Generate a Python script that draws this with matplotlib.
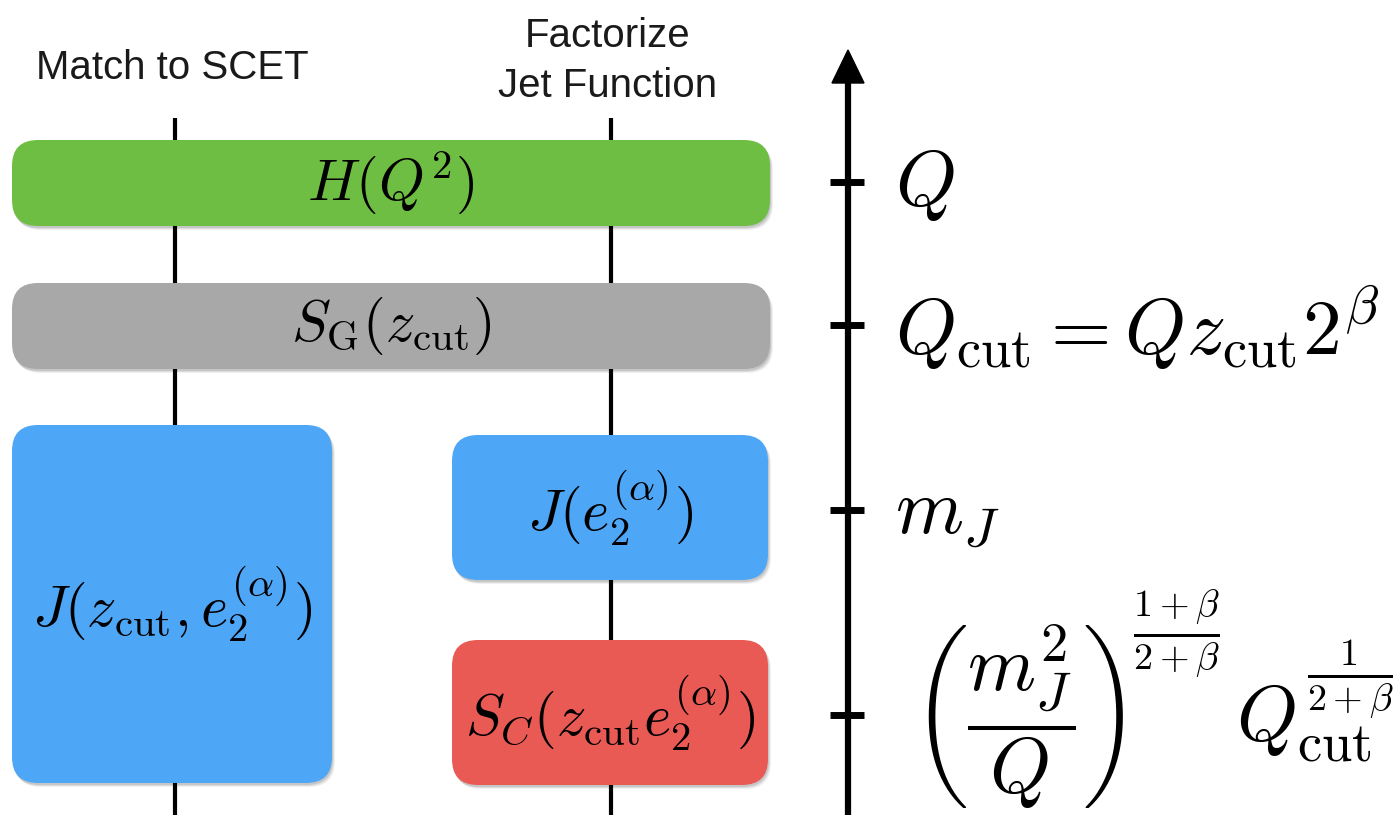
import matplotlib.pyplot as plt
from matplotlib.patches import FancyBboxPatch, Polygon

plt.rcParams['mathtext.fontset'] = 'cm'
plt.rcParams['font.family'] = ['Liberation Sans', 'DejaVu Sans']

# column headers and the two vertical factorization lines
headers = ["Match to SCET", "Factorize\nJet Function"]
header_x = [172, 608]

# boxes: label, colour, (left, top, width, height)
box_labels = [r"$H(Q^2)$",
              r"$S_{\rm G}(z_{\rm cut})$",
              r"$J(z_{\rm cut},e_2^{(\alpha)})$",
              r"$J(e_2^{(\alpha)})$",
              r"$S_C(z_{\rm cut}e_2^{(\alpha)})$"]
box_colors = ["#6fbe44", "#a7a8a7", "#4ea6f6", "#4ea6f6", "#ea5a55"]
box_rects = [(12, 140, 758, 86),
             (12, 283, 758, 86),
             (12, 425, 320, 358),
             (452, 435, 316, 145),
             (452, 640, 316, 145)]

# energy scale on the right
scale_labels = [r"$Q$",
                r"$Q_{\rm cut}=Qz_{\rm cut}2^{\beta}$",
                r"$m_J$",
                None]
scale_y = [182, 325, 510, 715]
# lowest scale is written in three pieces so the exponent sits high
soft_pieces = [r"$\left(\dfrac{m_J^2}{Q}\right)$",
               r"${}^{\frac{1+\beta}{2+\beta}}$",
               r"$Q_{\rm cut}^{\frac{1}{2+\beta}}$"]

fig = plt.figure(figsize=(13.97, 8.15), dpi=100)
ax = fig.add_axes([0, 0, 1, 1])
ax.set_xlim(0, 1397)
ax.set_ylim(815, 0)
ax.axis('off')

for txt, x in zip(headers, header_x):
    ax.text(x, 68 if "\n" not in txt else 61, txt, ha='center', va='center',
            fontsize=29, linespacing=1.4, color='#1a1a1a')

for x in header_x:
    ax.plot([x + 3, x + 3], [118, 815], color='k', lw=3, zorder=1,
            solid_capstyle='butt')

for lab, col, (x, y, w, h) in zip(box_labels, box_colors, box_rects):
    # soft drop shadow
    for i, a in enumerate([0.10, 0.08, 0.06]):
        sh = FancyBboxPatch((x + 1 + i, y + 2 + i), w, h,
                            boxstyle="round,pad=0,rounding_size=26",
                            fc='k', ec='none', alpha=a, zorder=2)
        ax.add_patch(sh)
    p = FancyBboxPatch((x, y), w, h, boxstyle="round,pad=0,rounding_size=26",
                       fc=col, ec='none', zorder=3)
    ax.add_patch(p)
    ax.text(x + w / 2, y + h / 2, lab, ha='center', va='center',
            fontsize=42, zorder=4)

# scale axis with arrow head
ax.plot([848, 848], [80, 815], color='k', lw=4.5, solid_capstyle='butt')
ax.add_patch(Polygon([[832, 83], [864, 83], [848, 50]], closed=True,
                     fc='k', ec='k'))
for y, lab in zip(scale_y, scale_labels):
    ax.plot([830, 864], [y, y], color='k', lw=5, solid_capstyle='butt')
    if lab is not None:
        ax.text(895, y + 3, lab, ha='left', va='center', fontsize=56)

y = scale_y[3]
ax.text(912, y + 2, soft_pieces[0], ha='left', va='center', fontsize=56)
ax.text(1130, 644, soft_pieces[1], ha='left', va='center', fontsize=56)
ax.text(1236, y - 14, soft_pieces[2], ha='left', va='center', fontsize=56)

fig.savefig('out.png', dpi=100)
